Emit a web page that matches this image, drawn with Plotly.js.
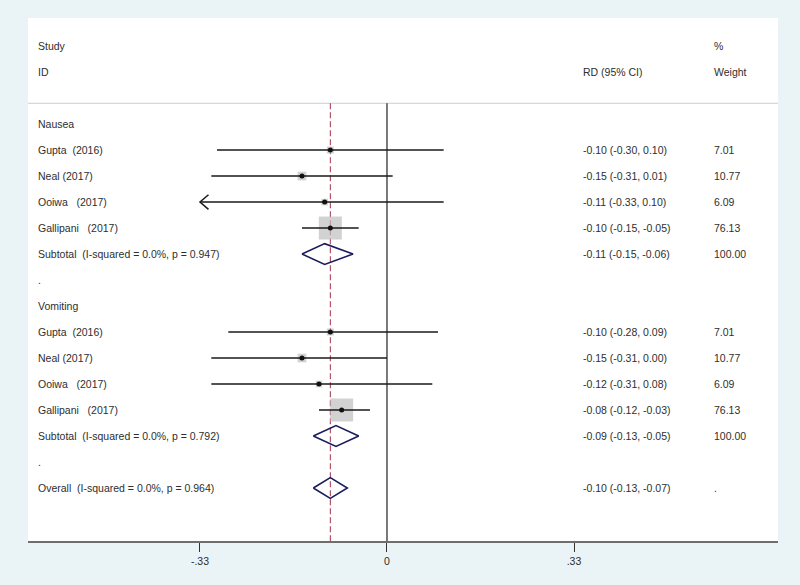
<!DOCTYPE html>
<html>
<head>
<meta charset="utf-8">
<script src="https://cdn.plot.ly/plotly-3.0.1.min.js"></script>
<style>html,body{margin:0;padding:0;background:#eaf3f6;}#chart{width:800px;height:585px;}</style>
</head>
<body>
<div id="chart"></div>
<script>
// ---- data ----
const labels = ['Nausea','Gupta\u00a0\u00a0(2016)','Neal (2017)','Ooiwa\u00a0\u00a0\u00a0(2017)','Gallipani\u00a0\u00a0\u00a0(2017)',
  'Subtotal\u00a0\u00a0(I-squared = 0.0%, p = 0.947)','.','Vomiting','Gupta\u00a0\u00a0(2016)','Neal (2017)',
  'Ooiwa\u00a0\u00a0\u00a0(2017)','Gallipani\u00a0\u00a0\u00a0(2017)','Subtotal\u00a0\u00a0(I-squared = 0.0%, p = 0.792)','.',
  'Overall\u00a0\u00a0(I-squared = 0.0%, p = 0.964)'];
const rowType = ['group','study','study','study','study','pooled','blank','group','study','study','study','study','pooled','blank','pooled'];
const est = [null,-0.10,-0.15,-0.11,-0.10,-0.11,null,null,-0.10,-0.15,-0.12,-0.08,-0.09,null,-0.10];
const lo  = [null,-0.30,-0.31,-0.33,-0.15,-0.15,null,null,-0.28,-0.31,-0.31,-0.12,-0.13,null,-0.13];
const hi  = [null, 0.10, 0.01, 0.10,-0.05,-0.06,null,null, 0.09, 0.00, 0.08,-0.03,-0.05,null,-0.07];
const weightText = ['','7.01','10.77','6.09','76.13','100.00','','','7.01','10.77','6.09','76.13','100.00','','.'];
const weights = [null,7.01,10.77,6.09,76.13,100,null,null,7.01,10.77,6.09,76.13,100,null,null];
const overallEst = -0.10;
const axisMin = -0.33;
const tickVals = [-0.33, 0, 0.33];
const tickText = ['-.33', '0', '.33'];
const headLeft = ['Study','ID'];
const headRD = 'RD (95% CI)';
const headW = ['%','Weight'];

// ---- build traces ----
const ciX = [], ciY = [], boxX = [], boxY = [], boxS = [], dotX = [], dotY = [];
const arrX = [], arrY = [], diaX = [], diaY = [];
const maxW = 76.13;
rowType.forEach((t, i) => {
  if (t === 'study') {
    ciX.push(lo[i], hi[i], null); ciY.push(i, i, null);
    boxX.push(est[i]); boxY.push(i); boxS.push(23 * Math.sqrt(weights[i] / maxW));
    dotX.push(est[i]); dotY.push(i);
    if (lo[i] <= axisMin) {
      arrX.push(lo[i] + 0.015, lo[i], lo[i] + 0.015, null);
      arrY.push(i - 0.28, i, i + 0.28, null);
    }
  } else if (t === 'pooled') {
    diaX.push(lo[i], est[i], hi[i], est[i], lo[i], null);
    diaY.push(i, i - 0.4, i, i + 0.4, i, null);
  }
});

const traces = [
  {x: boxX, y: boxY, type: 'scatter', mode: 'markers', hoverinfo: 'skip',
   marker: {symbol: 'square', size: boxS, color: '#bfbfbf', line: {width: 0}}},
  {x: ciX, y: ciY, type: 'scatter', mode: 'lines', hoverinfo: 'skip',
   line: {color: '#1a1a1a', width: 1.5}},
  {x: arrX, y: arrY, type: 'scatter', mode: 'lines', hoverinfo: 'skip',
   line: {color: '#1a1a1a', width: 1.5}},
  {x: dotX, y: dotY, type: 'scatter', mode: 'markers', hoverinfo: 'skip',
   marker: {symbol: 'circle', size: 5, color: '#111'}},
  {x: diaX, y: diaY, type: 'scatter', mode: 'lines', hoverinfo: 'skip',
   line: {color: '#1a1a5e', width: 1.6}}
];

// ---- text columns ----
const txtFont = {family: 'Liberation Sans, Arial, sans-serif', size: 10.5, color: '#2e2e2e'};
const ann = [];
function addText(xp, y, text) {
  ann.push({xref: 'paper', yref: 'y', x: xp, y: y, text: text, showarrow: false,
    xanchor: 'left', yanchor: 'middle', font: txtFont, borderpad: 0});
}
const xLab = 0.0125, xRD = 0.7393, xW = 0.9127;
addText(xLab, -3, headLeft[0]); addText(xLab, -2, headLeft[1]);
addText(xRD, -2, headRD);
addText(xW, -3, headW[0]); addText(xW, -2, headW[1]);
labels.forEach((l, i) => {
  addText(xLab, i, l);
  if (est[i] !== null) addText(xRD, i, est[i].toFixed(2) + ' (' + lo[i].toFixed(2) + ', ' + hi[i].toFixed(2) + ')');
  if (weightText[i]) addText(xW, i, weightText[i]);
});

const yBottom = 16.04, yTop = -4.08, yHead = -0.8;
const layout = {
  width: 800, height: 585,
  margin: {l: 28, r: 22, t: 18, b: 44},
  paper_bgcolor: '#eaf3f6', plot_bgcolor: '#ffffff',
  showlegend: false,
  xaxis: {range: [-0.6335, 0.690], showgrid: false, zeroline: false,
    showline: true, linecolor: '#6e6e6e', linewidth: 2,
    ticks: 'outside', ticklen: 9, tickwidth: 1, tickcolor: '#333',
    tickvals: tickVals, ticktext: tickText, tickfont: txtFont, fixedrange: true},
  yaxis: {range: [yBottom, yTop], showgrid: false, zeroline: false, showline: false,
    showticklabels: false, ticks: '', fixedrange: true},
  shapes: [
    {type: 'line', xref: 'paper', yref: 'y', x0: 0, x1: 1, y0: yHead, y1: yHead,
     line: {color: '#cccccc', width: 1}, layer: 'below'},
    {type: 'line', xref: 'x', yref: 'y', x0: 0, x1: 0, y0: yHead, y1: yBottom,
     line: {color: '#222', width: 1.2}, layer: 'below'},
    {type: 'line', xref: 'x', yref: 'y', x0: overallEst, x1: overallEst, y0: yHead, y1: yBottom,
     line: {color: '#a0304a', width: 1, dash: '6px,3px'}, layer: 'below'}
  ],
  annotations: ann
};
Plotly.newPlot('chart', traces, layout, {displayModeBar: false, staticPlot: true});
</script>
</body>
</html>
